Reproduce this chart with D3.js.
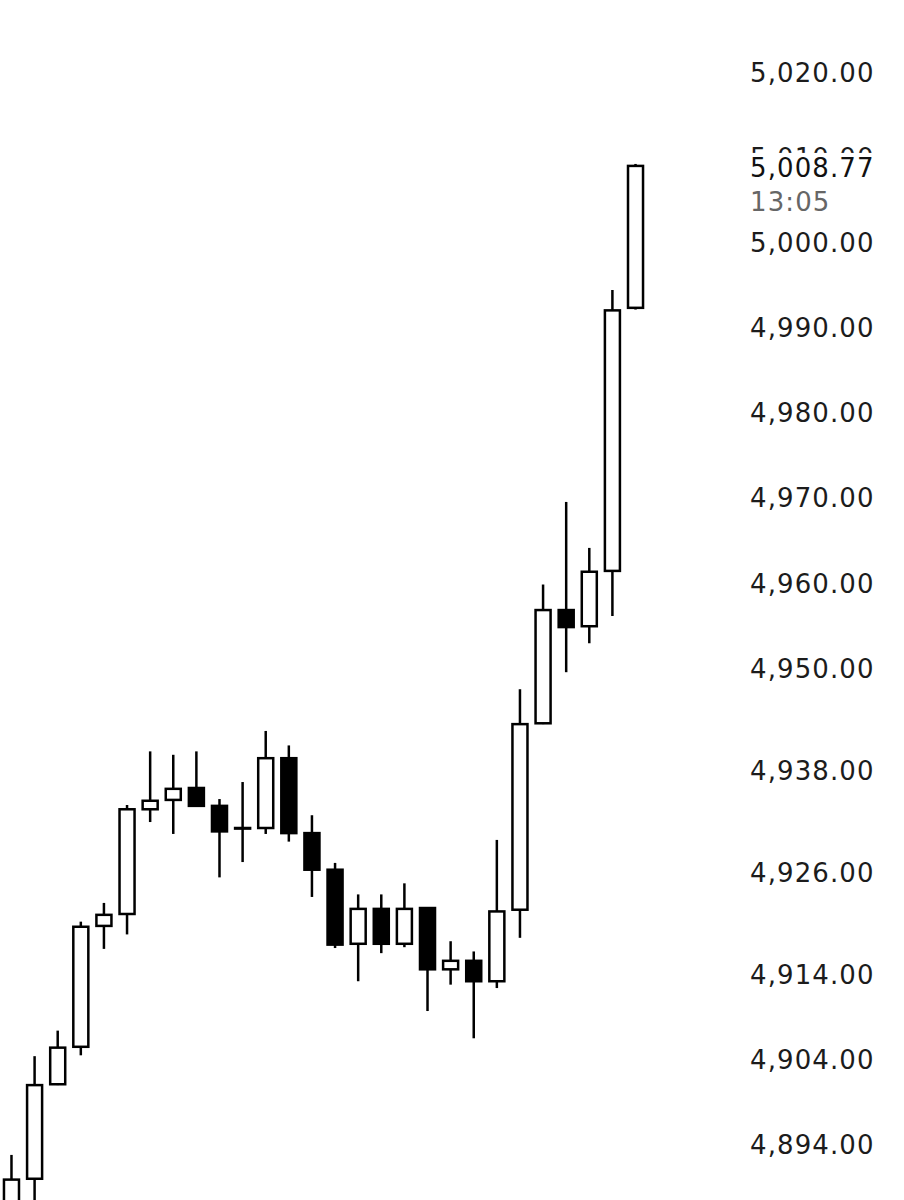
<!DOCTYPE html>
<html>
<head>
<meta charset="utf-8">
<script src="https://cdn.jsdelivr.net/npm/d3@7"></script>
<style>
  html, body { margin: 0; padding: 0; background: #fff; }
  svg { display: block; }
</style>
</head>
<body>
<svg id="chart" width="904" height="1200"></svg>
<script>
const times = ["10:50","10:55","11:00","11:05","11:10","11:15","11:20","11:25","11:30","11:35",
               "11:40","11:45","11:50","11:55","12:00","12:05","12:10","12:15","12:20","12:25",
               "12:30","12:35","12:40","12:45","12:50","12:55","13:00","13:05"];
const opens  = [4885.0,4889.8,4900.9,4905.3,4919.5,4920.9,4933.2,4934.3,4935.7,4933.6,
                4931.0,4931.0,4939.2,4930.4,4926.1,4917.4,4921.5,4917.4,4921.6,4914.4,
                4915.4,4913.0,4921.4,4943.3,4956.6,4954.7,4961.2,4992.1];
const highs  = [4892.6,4904.2,4907.2,4920.0,4922.2,4933.7,4940.0,4939.6,4940.0,4934.4,
                4936.4,4942.4,4940.7,4932.5,4926.9,4923.2,4923.2,4924.5,4921.6,4917.7,
                4916.5,4929.6,4947.3,4959.6,4969.3,4963.9,4994.2,5009.0];
const lows   = [4884.0,4884.5,4900.8,4904.3,4916.8,4918.5,4931.7,4930.3,4933.5,4925.2,
                4927.0,4930.3,4929.4,4922.9,4916.9,4913.0,4916.3,4917.0,4909.5,4912.6,
                4906.3,4912.2,4918.1,4943.2,4949.3,4952.7,4955.9,4991.9];
const closes = [4889.7,4900.8,4905.2,4919.4,4920.8,4933.2,4934.2,4935.6,4933.6,4930.6,
                4931.0,4939.2,4930.4,4926.1,4917.3,4921.5,4917.4,4921.5,4914.4,4915.4,
                4913.0,4921.2,4943.2,4956.6,4954.6,4961.1,4991.8,5008.77];
const tickValues = [5030,5020,5010,5000,4990,4980,4970,4960,4950,4938,4926,4914,4904,4894];
const lastPrice = 5008.77;
const lastTime = "13:05";

const candles = times.map((t, i) => ({t, o: opens[i], h: highs[i], l: lows[i], c: closes[i]}));

const svg = d3.select("#chart");
const y = d3.scaleLinear().domain([4894, 5020]).range([1143, 70.3]);
const x = d3.scaleBand().domain(times).range([0.5, 646.5]).paddingInner(0.35).paddingOuter(0.15);

const g = svg.append("g");
// wicks
g.selectAll("line.wick").data(candles).join("line")
  .attr("class", "wick")
  .attr("x1", d => x(d.t) + x.bandwidth() / 2)
  .attr("x2", d => x(d.t) + x.bandwidth() / 2)
  .attr("y1", d => y(d.h))
  .attr("y2", d => y(d.l))
  .attr("stroke", "#000")
  .attr("stroke-width", 2.5);
// bodies
g.selectAll("rect.body").data(candles).join("rect")
  .attr("class", "body")
  .attr("x", d => x(d.t))
  .attr("width", x.bandwidth())
  .attr("y", d => y(Math.max(d.o, d.c)))
  .attr("height", d => Math.max(0.6, Math.abs(y(d.o) - y(d.c))))
  .attr("fill", d => d.c >= d.o ? "#fff" : "#000")
  .attr("stroke", "#000")
  .attr("stroke-width", 2.5);

// right axis labels
const axis = d3.axisRight(y).tickValues(tickValues).tickSize(0).tickPadding(0).tickFormat(d3.format(",.2f"));
const ag = svg.append("g").attr("transform", "translate(750,0)").call(axis);
ag.select(".domain").remove();
ag.selectAll("text")
  .attr("x", 0)
  .attr("dy", "0.42em")
  .attr("fill", "#1c1c1c")
  .style("font-family", "'DejaVu Sans', sans-serif")
  .style("font-size", "26px")
  .style("letter-spacing", "1.1px");

// current price label
const py = y(lastPrice);
const lab = svg.append("g");
lab.append("rect")
  .attr("x", 744).attr("y", py - 13).attr("width", 160).attr("height", 64)
  .attr("fill", "#fff");
lab.append("text")
  .attr("x", 750).attr("y", py).attr("dy", "0.42em")
  .attr("fill", "#111")
  .style("font-family", "'DejaVu Sans', sans-serif")
  .style("font-size", "26px")
  .style("letter-spacing", "1.1px")
  .text(d3.format(",.2f")(lastPrice));
lab.append("text")
  .attr("x", 750).attr("y", py + 34).attr("dy", "0.42em")
  .attr("fill", "#666")
  .style("font-family", "'DejaVu Sans', sans-serif")
  .style("font-size", "26px")
  .style("letter-spacing", "1.1px")
  .text(lastTime);
</script>
</body>
</html>
